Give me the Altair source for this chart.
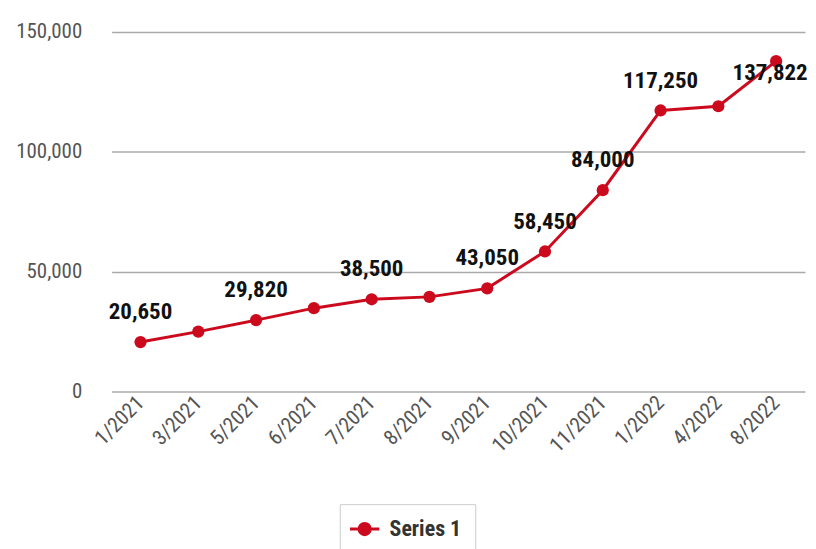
import altair as alt
import pandas as pd

months = ["1/2021", "3/2021", "5/2021", "6/2021", "7/2021", "8/2021", "9/2021",
          "10/2021", "11/2021", "1/2022", "4/2022", "8/2022"]
values = [20650, 25000, 29820, 34800, 38500, 39500, 43050, 58450, 84000, 117250, 119000, 137822]
shown = [True, False, True, False, True, False, True, True, True, True, False, True]
y_ticks = [0, 50000, 100000, 150000]

df = pd.DataFrame({
    "month": months,
    "value": values,
    "label": [f"{v:,}" if s else "" for v, s in zip(values, shown)],
    "series": ["Series 1"] * len(months),
    "last": [m == months[-1] for m in months],
})

FONT = "Roboto Condensed"
RED = "#cc0a1e"

x = alt.X("month:N", sort=months, title=None,
          scale=alt.Scale(type="point", padding=0.5),
          axis=alt.Axis(labelAngle=-45, labelFont=FONT, labelFontSize=21,
                        labelColor="#555555", ticks=False, domain=False,
                        labelPadding=8, grid=False, labelBaseline="middle",
                        labelAlign="right"))
y = alt.Y("value:Q", title=None,
          scale=alt.Scale(domain=[0, 150000], nice=False),
          axis=alt.Axis(values=y_ticks, format=",d", labelFont=FONT, labelFontSize=21,
                        labelColor="#555555", ticks=False, domain=False,
                        labelPadding=30, gridColor="#aaaaaa", gridWidth=1.5))

color = alt.Color("series:N", title=None,
                  scale=alt.Scale(range=[RED]),
                  legend=alt.Legend(orient="none", legendX=229, legendY=474,
                                    direction="horizontal",
                                    symbolType="M-1.7,0H-0.65M0.65,0H1.7M0.65,0A0.65,0.65 0 1,1 -0.65,0A0.65,0.65 0 1,1 0.65,0Z",
                                    symbolSize=300, symbolStrokeWidth=3,
                                    symbolFillColor=RED, symbolStrokeColor=RED,
                                    labelFont=FONT, labelFontSize=22, labelFontWeight="bold",
                                    labelColor="#333333", labelOffset=14,
                                    strokeColor="#cccccc", padding=14))

base = alt.Chart(df)
line = base.mark_line(strokeWidth=3).encode(x=x, y=y, color=color)
pts = base.mark_circle(size=150, opacity=1).encode(
    x=x, y=y, color=alt.Color("series:N", scale=alt.Scale(range=[RED]), legend=None))
txt = base.transform_filter("!datum.last").mark_text(
    font=FONT, fontSize=23, fontWeight="bold", color="#111111", dy=-30).encode(
    x=x, y=y, text="label:N")
txt_last = base.transform_filter("datum.last").mark_text(
    font=FONT, fontSize=23, fontWeight="bold", color="#111111", dy=12, dx=-6).encode(
    x=x, y=y, text="label:N")

chart = (line + pts + txt + txt_last).properties(
    width=696, height=361, background="white",
    padding={"left": 7, "top": 12, "right": 0, "bottom": 0},
).configure_view(strokeWidth=0)

chart.save("out.html", embed_options={"renderer": "svg", "actions": False})
